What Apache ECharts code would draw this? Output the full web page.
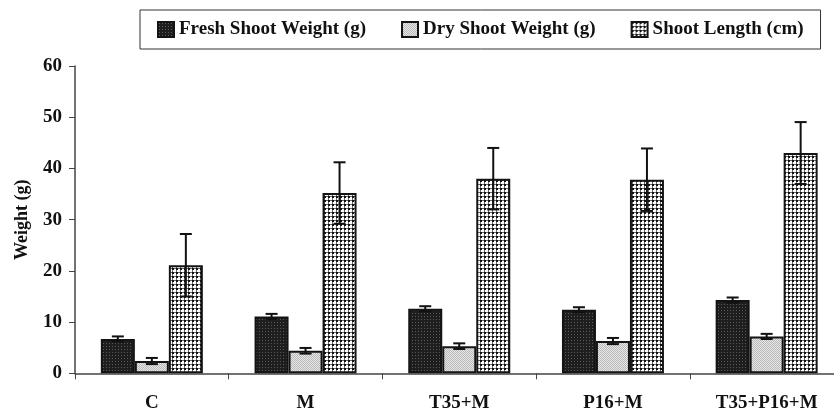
<!DOCTYPE html>
<html>
<head>
<meta charset="utf-8">
<script src="https://cdn.jsdelivr.net/npm/echarts@6/dist/echarts.min.js"></script>
<style>
html,body{margin:0;padding:0;background:#fff;}
#chart{width:834px;height:409px;}
</style>
</head>
<body>
<div id="chart"></div>
<script>
const categories = ['C', 'M', 'T35+M', 'P16+M', 'T35+P16+M'];
const seriesNames = ['Fresh Shoot Weight (g)', 'Dry Shoot Weight (g)', 'Shoot Length (cm)'];
const freshWeight = [6.7, 11.1, 12.6, 12.4, 14.3];
const freshErr = [0.5, 0.5, 0.5, 0.5, 0.5];
const dryWeight = [2.4, 4.4, 5.3, 6.3, 7.2];
const dryErr = [0.6, 0.55, 0.55, 0.6, 0.5];
const shootLength = [21.1, 35.2, 38.0, 37.8, 43.0];
const shootErr = [6.1, 6.0, 6.0, 6.1, 6.05];
const yTicks = [0, 10, 20, 30, 40, 50, 60];

function makePattern(kind) {
  const c = document.createElement('canvas');
  const ctx = c.getContext('2d');
  if (kind === 'fresh') {
    c.width = 3; c.height = 3;
    ctx.fillStyle = '#1e1e1e'; ctx.fillRect(0, 0, 3, 3);
    ctx.fillStyle = '#5a5a5a'; ctx.fillRect(1, 1, 1, 1);
  } else if (kind === 'dry') {
    c.width = 2; c.height = 2;
    ctx.fillStyle = '#e8e8e8'; ctx.fillRect(0, 0, 2, 2);
    ctx.fillStyle = '#b8b8b8'; ctx.fillRect(0, 0, 1, 1); ctx.fillRect(1, 1, 1, 1);
  } else {
    c.width = 4; c.height = 4;
    ctx.fillStyle = '#ffffff'; ctx.fillRect(0, 0, 4, 4);
    ctx.fillStyle = '#111111'; ctx.fillRect(0, 0, 2, 2);
    ctx.fillStyle = '#666666'; ctx.fillRect(2, 0, 2, 1); ctx.fillRect(0, 2, 1, 2);
  }
  return { image: c, repeat: 'repeat' };
}

const patterns = [makePattern('fresh'), makePattern('dry'), makePattern('shoot')];
const values = [freshWeight, dryWeight, shootLength];
const errs = [freshErr, dryErr, shootErr];
const BAR_W = 34;
const offsets = [-BAR_W, 0, BAR_W];
const FONT = '"Liberation Serif", "Times New Roman", serif';

const series = [];
values.forEach((vals, i) => {
  series.push({
    name: seriesNames[i],
    type: 'bar',
    data: vals,
    barWidth: BAR_W,
    barGap: '0%',
    itemStyle: { color: patterns[i], borderColor: '#141414', borderWidth: 2 },
    emphasis: { disabled: true },
    z: 2
  });
});
values.forEach((vals, i) => {
  series.push({
    type: 'custom',
    name: 'err' + i,
    z: 5,
    data: vals.map((v, k) => [k, v, errs[i][k]]),
    encode: { x: 0, y: 1 },
    renderItem: function (params, api) {
      const idx = api.value(0);
      const v = api.value(1);
      const e = api.value(2);
      const top = api.coord([idx, v + e]);
      const bot = api.coord([idx, v - e]);
      const x = top[0] + offsets[i];
      const hw = 6;
      const style = { stroke: '#111', lineWidth: 2 };
      return {
        type: 'group',
        children: [
          { type: 'line', shape: { x1: x, y1: top[1], x2: x, y2: bot[1] }, style: style },
          { type: 'line', shape: { x1: x - hw, y1: top[1], x2: x + hw, y2: top[1] }, style: style },
          { type: 'line', shape: { x1: x - hw, y1: bot[1], x2: x + hw, y2: bot[1] }, style: style }
        ]
      };
    }
  });
});

const chart = echarts.init(document.getElementById('chart'), null, { renderer: 'canvas' });
chart.setOption({
  animation: false,
  backgroundColor: '#fff',
  textStyle: { fontFamily: FONT },
  legend: {
    data: seriesNames.map(n => ({ name: n, icon: 'rect' })),
    left: 140,
    top: 10,
    padding: [10, 17, 10, 17],
    borderColor: '#333',
    borderWidth: 1,
    itemGap: 35,
    itemWidth: 16,
    itemHeight: 15,
    selectedMode: false,
    textStyle: { fontFamily: FONT, fontWeight: 'bold', fontSize: 19, color: '#111' }
  },
  grid: { left: 75, top: 66, width: 768.5, height: 307.3, containLabel: false, outerBoundsMode: 'none' },
  xAxis: {
    type: 'category',
    data: categories,
    axisLine: { lineStyle: { color: '#444', width: 1.5 } },
    axisTick: { show: true, length: 6, lineStyle: { color: '#444' } },
    axisLabel: { fontFamily: FONT, fontWeight: 'bold', fontSize: 19, color: '#111', margin: 20 }
  },
  yAxis: {
    type: 'value',
    min: yTicks[0],
    max: yTicks[yTicks.length - 1],
    interval: yTicks[1] - yTicks[0],
    name: 'Weight (g)',
    nameLocation: 'middle',
    nameGap: 44,
    nameTextStyle: { fontFamily: FONT, fontWeight: 'bold', fontSize: 18, color: '#111' },
    splitLine: { show: false },
    axisLine: { show: true, lineStyle: { color: '#444', width: 1.5 } },
    axisTick: { show: true, length: 6, lineStyle: { color: '#444' } },
    axisLabel: { fontFamily: FONT, fontWeight: 'bold', fontSize: 19, color: '#111', margin: 13 }
  },
  series: series
});
</script>
</body>
</html>
